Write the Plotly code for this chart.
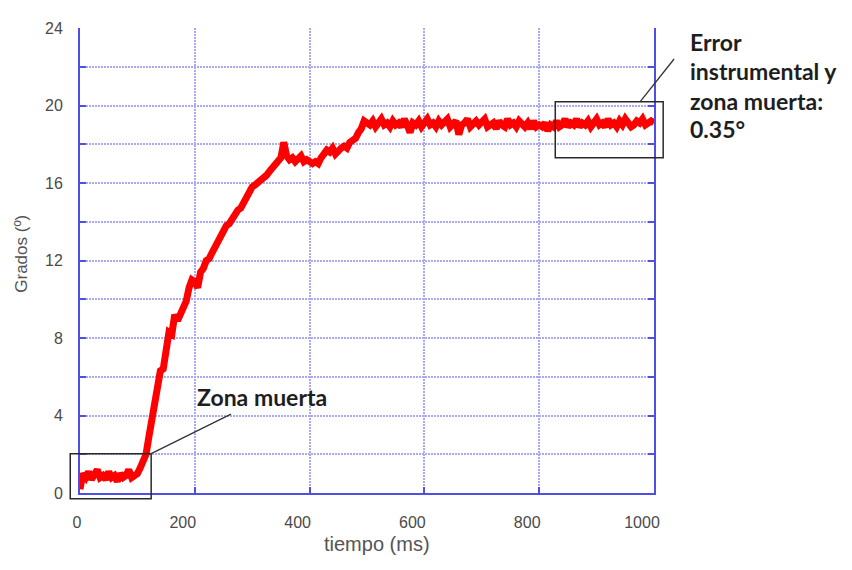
import plotly.graph_objects as go

# ---- data ----
paso_ms = 5
grados = [
    # 0 .. 100 ms
    0.2, 1.0, 0.8, 1.1, 0.7, 0.9, 1.2, 0.8, 0.9, 0.7, 1.1, 0.8, 0.9, 0.6, 1.0, 0.8, 0.9, 1.2, 0.8, 0.9, 1.0,
    # 105 .. 500 ms
    1.3, 1.6, 2.0, 2.9, 3.9, 4.6, 5.6, 6.3, 6.4, 7.5,
    8.3, 8.2, 9.2, 8.9, 9.3, 9.5, 9.9, 10.6, 11.0, 10.9,
    10.6, 11.4, 11.6, 12.0, 12.1, 12.4, 12.7, 12.8, 13.2, 13.5,
    13.8, 13.9, 14.2, 14.3, 14.6, 14.7, 15.0, 15.3, 15.4, 15.8,
    15.9, 16.0, 16.1, 16.2, 16.4, 16.6, 16.8, 16.9, 17.2, 17.3,
    18.1, 17.4, 17.2, 17.3, 17.1, 17.2, 17.4, 17.1, 17.2, 17.1,
    17.0, 17.1, 17.0, 17.3, 17.5, 17.7, 17.6, 17.8, 17.5, 17.7,
    17.8, 17.9, 17.8, 18.1, 18.2, 18.3, 18.6, 18.8, 19.2, 19.1,
    # 505 .. 1000 ms
    19.0, 19.2, 18.9, 19.1, 19.3, 19.0, 19.1, 18.9, 19.2, 19.0, 19.1, 18.9, 19.3, 19.0, 18.6, 19.1, 19.0, 19.2, 18.9, 19.1,
    19.3, 19.0, 19.1, 18.9, 19.2, 19.0, 19.1, 19.3, 18.9, 19.0, 19.2, 18.5, 19.0, 19.1, 19.3, 18.9, 19.0, 19.2, 19.0, 19.1,
    19.3, 18.9, 19.0, 19.1, 18.8, 19.2, 19.0, 18.9, 19.3, 19.0, 19.1, 18.9, 19.2, 19.0, 18.9, 19.1, 18.8, 19.2, 18.9, 19.0,
    18.9, 19.1, 18.7, 19.0, 18.9, 19.2, 18.9, 19.0, 19.3, 18.9, 19.1, 19.0, 19.3, 18.9, 19.1, 19.0, 19.2, 18.9, 19.1, 19.3,
    19.0, 19.1, 18.9, 19.3, 19.0, 19.1, 18.9, 19.2, 19.0, 19.3, 19.1, 18.9, 19.0, 19.2, 19.1, 19.3, 19.0, 19.1, 19.2, 19.1,
]
tiempo = [paso_ms * i for i in range(len(grados))]

x_ticks = [0, 200, 400, 600, 800, 1000]
x_tick_labels = ["\u2007\u20070", "200", "400", "600", "800", "1000"]
y_ticks = [0, 4, 8, 12, 16, 20, 24]
y_tick_labels = ["0", "4", "8", "12", "16", "20", "24"]
x_title = "tiempo (ms)"
y_title = "Grados (º)"

# annotation regions, in data units (ms, degrees)
caja_zona = dict(t0=-17, t1=124, g0=-0.3, g1=2.03)
guia_zona = dict(t0=124, g0=2.03, t1=263, g1=4.07)
caja_error = dict(t0=828, t1=1016, g0=17.3, g1=20.2)
guia_error = dict(t0=976, g0=20.2, t1=1035, g1=22.4)
texto_zona = dict(t=317, g=4.98, text="Zona muerta")
texto_error_t = 1059
texto_error_lineas = ["Error", "instrumental y", "zona muerta:", "0.35°"]
texto_error_g = [23.28, 21.76, 20.23, 18.81]
# axis-title anchor points, in data units
x_title_pos = dict(t=517, g=-2.65)
y_title_pos = dict(t=-101, g=12.35)

X_RANGE = [0, 1000]
Y_RANGE = [0, 24]

AXIS_BLUE = "#4f4fe4"
GRID_BLUE = "#aaaaf2"


def fx(t):
    return (t - X_RANGE[0]) / (X_RANGE[1] - X_RANGE[0])


def fy(g):
    return (g - Y_RANGE[0]) / (Y_RANGE[1] - Y_RANGE[0])


fig = go.Figure()
fig.add_trace(go.Scatter(
    x=tiempo, y=grados, mode="lines",
    line=dict(color="#ff0000", width=7),
    showlegend=False, hoverinfo="skip",
))

tick_font = dict(family="Liberation Sans, Arial, sans-serif", size=16, color="#4a4a4a")
title_font_family = "Liberation Sans, Arial, sans-serif"

# the page body adds an 8px offset; margins compensate for it
fig.update_layout(
    width=852, height=570,
    margin=dict(l=72, r=206, t=13, b=85),
    paper_bgcolor="white", plot_bgcolor="white",
    xaxis=dict(
        range=X_RANGE, tickvals=x_ticks, ticktext=x_tick_labels,
        showline=True, linecolor=AXIS_BLUE, linewidth=2, mirror=False,
        ticks="inside", ticklen=6, tickwidth=2, tickcolor=AXIS_BLUE,
        showgrid=True, gridcolor=GRID_BLUE, gridwidth=2, griddash="2px,1px",
        zeroline=False, tickfont=tick_font, ticklabelstandoff=14, ticklabelshift=-12,
    ),
    yaxis=dict(
        range=Y_RANGE, tickvals=y_ticks, ticktext=y_tick_labels,
        showline=True, linecolor=AXIS_BLUE, linewidth=2, mirror="ticks",
        ticks="inside", ticklen=6, tickwidth=2, tickcolor=AXIS_BLUE,
        showgrid=True, gridcolor=GRID_BLUE, gridwidth=2, griddash="2px,1px",
        minor=dict(dtick=2, showgrid=True, gridcolor=GRID_BLUE, gridwidth=2, griddash="2px,1px",
                   ticks="inside", ticklen=6, tickwidth=2, tickcolor=AXIS_BLUE),
        zeroline=False, tickfont=tick_font, ticklabelstandoff=12,
    ),
)

shapes = []
for c in (caja_zona, caja_error):
    shapes.append(dict(type="rect", xref="x domain", yref="y domain",
                       x0=fx(c["t0"]), x1=fx(c["t1"]), y0=fy(c["g0"]), y1=fy(c["g1"]),
                       line=dict(color="#2a2a2a", width=1.5), fillcolor="rgba(0,0,0,0)", layer="above"))
for g in (guia_zona, guia_error):
    shapes.append(dict(type="line", xref="x domain", yref="y domain",
                       x0=fx(g["t0"]), x1=fx(g["t1"]), y0=fy(g["g0"]), y1=fy(g["g1"]),
                       line=dict(color="#333333", width=1.3), layer="above"))
fig.update_layout(shapes=shapes)

ann_font = dict(family="Lato, Open Sans, sans-serif", size=23, color="#1e1e1e")
annotations = [dict(x=fx(texto_zona["t"]), y=fy(texto_zona["g"]), xref="x domain", yref="y domain",
                    text="<b>%s</b>" % texto_zona["text"], showarrow=False,
                    xanchor="center", yanchor="middle", font=ann_font)]
for linea, g in zip(texto_error_lineas, texto_error_g):
    annotations.append(dict(x=fx(texto_error_t), y=fy(g), xref="x domain", yref="y domain",
                            text="<b>%s</b>" % linea, showarrow=False,
                            xanchor="left", yanchor="middle", font=ann_font))
annotations.append(dict(x=fx(x_title_pos["t"]), y=fy(x_title_pos["g"]), xref="x domain", yref="y domain",
                        text=x_title, showarrow=False, xanchor="center", yanchor="middle",
                        font=dict(family=title_font_family, size=20, color="#555555")))
annotations.append(dict(x=fx(y_title_pos["t"]), y=fy(y_title_pos["g"]), xref="x domain", yref="y domain",
                        text=y_title, showarrow=False, xanchor="center", yanchor="middle", textangle=-90,
                        font=dict(family=title_font_family, size=17, color="#555555")))
fig.update_layout(annotations=annotations)

fig.write_html("out.html")
